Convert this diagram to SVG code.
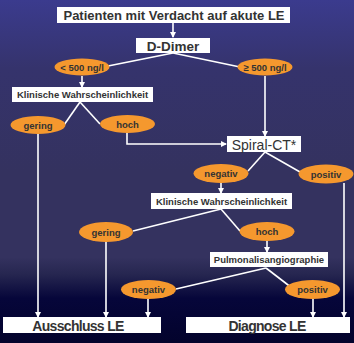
<svg xmlns="http://www.w3.org/2000/svg" width="354" height="343" viewBox="0 0 354 343">
<defs>
<linearGradient id="bg" x1="0" y1="0" x2="0" y2="343" gradientUnits="userSpaceOnUse">
<stop offset="0" stop-color="#3b3b8e"/>
<stop offset="0.2" stop-color="#35336c"/>
<stop offset="0.5" stop-color="#34325f"/>
<stop offset="0.75" stop-color="#34325f"/>
<stop offset="0.8" stop-color="#262650"/>
<stop offset="0.87" stop-color="#06063a"/>
<stop offset="1" stop-color="#03032c"/>
</linearGradient>
<marker id="ah" markerWidth="6" markerHeight="6" refX="5" refY="3" orient="auto" markerUnits="userSpaceOnUse">
<path d="M0,0 L6,3 L0,6 Z" fill="#ffffff"/>
</marker>
</defs>
<style>
.box{fill:#ffffff}
.ell{fill:#f5982e}
.ln{stroke:#ffffff;stroke-width:1.6;fill:none}
.ar{stroke:#ffffff;stroke-width:1.6;fill:none;marker-end:url(#ah)}
.tb{font-family:"Liberation Sans",Arial,sans-serif;font-weight:bold;fill:#333333;text-anchor:middle}
.tn{font-family:"Liberation Sans",Arial,sans-serif;fill:#333333;text-anchor:middle}
.big{font-size:14px;letter-spacing:-0.7px}
</style>
<rect x="0" y="0" width="354" height="343" fill="url(#bg)"/>
<g id="connectors">
<path class="ar" d="M173,23 L173,37"/>
<path class="ln" d="M173,53 L108,66"/>
<path class="ln" d="M173,53 L240,67"/>
<path class="ar" d="M82,76 L82,87"/>
<path class="ar" d="M265,76 L265,136"/>
<path class="ln" d="M80,102 L64,125"/>
<path class="ln" d="M80,102 L100,124"/>
<path class="ar" d="M127,133 L127,144 L226,144"/>
<path class="ln" d="M265,152 L248,171"/>
<path class="ln" d="M265,152 L300,172"/>
<path class="ar" d="M221,183 L221,193"/>
<path class="ln" d="M221,209 L133,231"/>
<path class="ln" d="M221,209 L240,231"/>
<path class="ar" d="M267,241 L267,252"/>
<path class="ln" d="M266,268 L176,289"/>
<path class="ln" d="M266,268 L292,288"/>
<path class="ar" d="M38,134 L38,317"/>
<path class="ar" d="M106,242 L106,317"/>
<path class="ar" d="M148,299 L148,317"/>
<path class="ar" d="M313,299 L313,317"/>
<path class="ar" d="M344,183 L344,317"/>
</g>
<g id="patienten"><rect class="box" x="57" y="7" width="233" height="16"/><text class="tb" x="174" y="20" font-size="13">Patienten mit Verdacht auf akute LE</text></g>
<g id="ddimer"><rect class="box" x="136" y="38" width="74" height="15"/><text class="tb" x="173" y="51" font-size="13.5">D-Dimer</text></g>
<g id="lt500"><ellipse class="ell" cx="82" cy="67" rx="27.5" ry="8.5"/><text class="tb" x="82" y="70.5" font-size="9.5">&lt; 500 ng/l</text></g>
<g id="ge500"><ellipse class="ell" cx="265" cy="67" rx="27.5" ry="8.5"/><text class="tb" x="265" y="70.5" font-size="9.5">≥ 500 ng/l</text></g>
<g id="klin1"><rect class="box" x="12" y="87" width="141" height="15"/><text class="tb" x="82.5" y="98" font-size="9.5">Klinische Wahrscheinlichkeit</text></g>
<g id="gering1"><ellipse class="ell" cx="38" cy="125" rx="27.5" ry="9"/><text class="tb" x="38" y="128.5" font-size="9.5">gering</text></g>
<g id="hoch1"><ellipse class="ell" cx="127.5" cy="124" rx="27.5" ry="9"/><text class="tb" x="127.5" y="127.5" font-size="9.5">hoch</text></g>
<g id="spiral"><rect class="box" x="227" y="136" width="74" height="16"/><text class="tn" x="264" y="149.5" font-size="14">Spiral-CT*</text></g>
<g id="negativ1"><ellipse class="ell" cx="221" cy="173.5" rx="27.5" ry="9.5"/><text class="tb" x="221" y="177" font-size="9.5">negativ</text></g>
<g id="positiv1"><ellipse class="ell" cx="326" cy="174" rx="27.5" ry="9.5"/><text class="tb" x="326" y="177.5" font-size="9.5">positiv</text></g>
<g id="klin2"><rect class="box" x="151" y="193" width="141" height="16"/><text class="tb" x="221.5" y="204.5" font-size="9.5">Klinische Wahrscheinlichkeit</text></g>
<g id="gering2"><ellipse class="ell" cx="106" cy="232" rx="27" ry="10"/><text class="tb" x="106" y="235.5" font-size="9.5">gering</text></g>
<g id="hoch2"><ellipse class="ell" cx="267" cy="231.5" rx="27.5" ry="9.5"/><text class="tb" x="267" y="235" font-size="9.5">hoch</text></g>
<g id="pulmo"><rect class="box" x="210" y="252" width="118" height="15"/><text class="tb" x="269" y="263" font-size="9.5">Pulmonalisangiographie</text></g>
<g id="negativ2"><ellipse class="ell" cx="148.5" cy="289.5" rx="27.5" ry="9.5"/><text class="tb" x="148.5" y="293" font-size="9.5">negativ</text></g>
<g id="positiv2"><ellipse class="ell" cx="312.5" cy="289.5" rx="27.5" ry="9.5"/><text class="tb" x="312.5" y="293" font-size="9.5">positiv</text></g>
<g id="ausschluss"><rect class="box" x="3" y="317" width="158" height="16"/><text class="tb big" x="78" y="330.5">Ausschluss LE</text></g>
<g id="diagnose"><rect class="box" x="186" y="317" width="164" height="16"/><text class="tb big" x="267" y="330.5">Diagnose LE</text></g>
</svg>
